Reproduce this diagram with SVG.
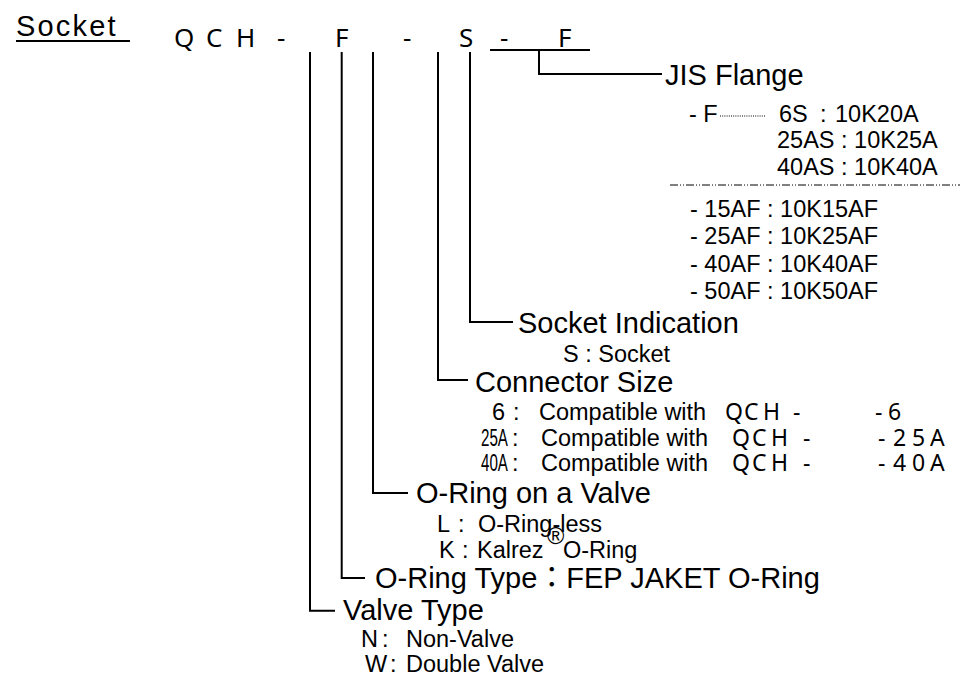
<svg xmlns="http://www.w3.org/2000/svg" width="963" height="678" viewBox="0 0 963 678">
<style>
.h{font-family:"Liberation Sans",Arial,sans-serif;font-size:29px;fill:#000}
.s{font-family:"Liberation Sans",Arial,sans-serif;font-size:23.5px;fill:#000}
.q{font-family:"Noto Sans","DejaVu Sans",sans-serif;font-size:26px;fill:#000}
.qs{font-family:"Noto Sans","DejaVu Sans",sans-serif;font-size:23px;fill:#000}
.ln{fill:none;stroke:#000;stroke-width:2}
</style>
<rect width="963" height="678" fill="#fff"/>
<g id="title">
<text class="h" x="16" y="36" font-size="32" letter-spacing="2.2">Socket</text>
<line x1="16" y1="41" x2="130" y2="41" stroke="#000" stroke-width="1.8"/>
<text class="q" y="47"><tspan x="174">Q</tspan><tspan x="206">C</tspan><tspan x="236">H</tspan><tspan x="277">-</tspan><tspan x="335">F</tspan><tspan x="403">-</tspan><tspan x="459">S</tspan><tspan x="500">-</tspan><tspan x="558">F</tspan></text>
</g>
<g id="connectors">
<path class="ln" d="M310,52V610.7H335"/>
<path class="ln" d="M341.7,52V578H365"/>
<path class="ln" d="M373,52V493H408"/>
<path class="ln" d="M438,52V380H468"/>
<path class="ln" d="M470,52V322H513"/>
<path class="ln" d="M490,50H590"/>
<path class="ln" d="M539,50V74H662"/>
</g>
<g id="jis-flange">
<text class="h" x="665" y="84.5">JIS Flange</text>
<text class="s" x="689" y="121.7">- F</text>
<line x1="720" y1="116" x2="766" y2="116" stroke="#000" stroke-width="1" stroke-dasharray="1 1.2"/>
<text class="s" y="121.7"><tspan x="779">6S</tspan><tspan x="820">:</tspan><tspan x="835">10K20A</tspan></text>
<text class="s" x="777" y="148">25AS : 10K25A</text>
<text class="s" x="777" y="175">40AS : 10K40A</text>
<line x1="670" y1="185" x2="960" y2="185" stroke="#000" stroke-width="1" stroke-dasharray="8 2 1 2 1 2"/>
<text class="s" x="690" y="216.7">- 15AF : 10K15AF</text>
<text class="s" x="690" y="244">- 25AF : 10K25AF</text>
<text class="s" x="690" y="271.7">- 40AF : 10K40AF</text>
<text class="s" x="690" y="299.3">- 50AF : 10K50AF</text>
</g>
<g id="socket-indication">
<text class="h" x="518" y="333">Socket Indication</text>
<text class="s" x="563" y="362">S : Socket</text>
</g>
<g id="connector-size">
<text class="h" x="475" y="391.7">Connector Size</text>
<text class="s" y="420"><tspan x="492">6</tspan><tspan x="513">:</tspan><tspan x="539">Compatible with</tspan></text>
<text class="qs" y="420"><tspan x="725">Q</tspan><tspan x="744">C</tspan><tspan x="763">H</tspan><tspan x="793">-</tspan><tspan x="875">-</tspan><tspan x="888">6</tspan></text>
<text class="s" y="445.5"><tspan x="481" textLength="27" lengthAdjust="spacingAndGlyphs">25A</tspan><tspan x="512">:</tspan><tspan x="541">Compatible with</tspan></text>
<text class="qs" y="445.5"><tspan x="732">Q</tspan><tspan x="752">C</tspan><tspan x="771">H</tspan><tspan x="803">-</tspan><tspan x="878">-</tspan><tspan x="893">2</tspan><tspan x="912">5</tspan><tspan x="930">A</tspan></text>
<text class="s" y="471"><tspan x="481" textLength="27" lengthAdjust="spacingAndGlyphs">40A</tspan><tspan x="512">:</tspan><tspan x="541">Compatible with</tspan></text>
<text class="qs" y="471"><tspan x="732">Q</tspan><tspan x="752">C</tspan><tspan x="771">H</tspan><tspan x="803">-</tspan><tspan x="878">-</tspan><tspan x="893">4</tspan><tspan x="912">0</tspan><tspan x="930">A</tspan></text>
</g>
<g id="oring-valve">
<text class="h" x="416" y="503">O-Ring on a Valve</text>
<text class="s" y="531.7"><tspan x="437">L</tspan><tspan x="458">:</tspan><tspan x="478">O-Ring-less</tspan></text>
<text class="s" y="558"><tspan x="439">K</tspan><tspan x="462">:</tspan><tspan x="477">Kalrez</tspan></text>
<text class="s" x="547" y="544" font-size="12.5">®</text>
<text class="s" x="563" y="558">O-Ring</text>
</g>
<g id="oring-type">
<text class="h" x="375" y="588">O-Ring Type<tspan font-family="'Noto Sans CJK JP',sans-serif">：</tspan>FEP JAKET O-Ring</text>
</g>
<g id="valve-type">
<text class="h" x="343" y="620">Valve Type</text>
<text class="s" y="646.5"><tspan x="361">N</tspan><tspan x="382">:</tspan><tspan x="406">Non-Valve</tspan></text>
<text class="s" y="671.5"><tspan x="365">W</tspan><tspan x="390">:</tspan><tspan x="406">Double Valve</tspan></text>
</g>
</svg>
